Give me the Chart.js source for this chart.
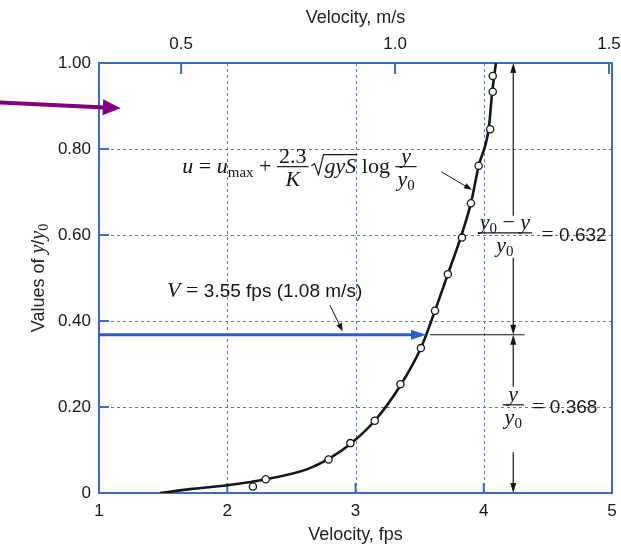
<!DOCTYPE html>
<html>
<head>
<meta charset="utf-8">
<script src="https://cdn.jsdelivr.net/npm/chart.js@4.4.1/dist/chart.umd.min.js"></script>
<style>
  html, body { margin: 0; padding: 0; background: #fff; }
  #wrap { width: 621px; height: 547px; }
</style>
</head>
<body>
<div id="wrap"><canvas id="velChart" width="621" height="547"></canvas></div>
<script>
// measured points: velocity (fps) and y/y0
var measuredFps   = [2.20, 2.30, 2.79, 2.96, 3.15, 3.35, 3.51, 3.62, 3.72, 3.83, 3.90, 3.96, 4.05, 4.07, 4.07];
var measuredRatio = [0.015, 0.032, 0.078, 0.116, 0.168, 0.253, 0.337, 0.424, 0.509, 0.594, 0.674, 0.761, 0.846, 0.933, 0.970];

// log-law curve
var curveFps   = [1.475, 1.71, 2.0, 2.3, 2.62, 2.8, 2.96, 3.15, 3.35, 3.51, 3.62, 3.72, 3.82, 3.90, 3.96, 4.04, 4.065, 4.095];
var curveRatio = [0.0, 0.009, 0.018, 0.032, 0.055, 0.081, 0.114, 0.168, 0.25, 0.337, 0.424, 0.509, 0.594, 0.674, 0.76, 0.85, 0.93, 1.0];

var fpsTicks   = [1, 2, 3, 4, 5];
var msTicks    = [0.5, 1.0, 1.5];
var ratioTicks = [0, 0.2, 0.4, 0.6, 0.8, 1.0];
var msMin = 0.308, msMax = 1.507;   // top axis range as drawn

var meanVelFps = 3.55;   // V = 3.55 fps
var meanRatio  = 0.368;  // y/y0 at mean velocity
var dimLineFps = 4.23;

var BLUE = 'rgb(58,108,196)';
var GRID = 'rgb(80,115,225)';
var INK = '#161616';
var SERIF_I = 'italic 22px "Liberation Serif"';
var SERIF = '22px "Liberation Serif"';
var SUB = '15px "Liberation Serif"';
var SANS = '19px "Liberation Sans"';

function pt(chart, xv, yv) {
    return [chart.scales.x.getPixelForValue(xv), chart.scales.y.getPixelForValue(yv)];
}

function arrowHead(c, x1, y1, x2, y2, len, w, color) {
    var a = Math.atan2(y2 - y1, x2 - x1);
    c.save();
    c.fillStyle = color;
    c.beginPath();
    c.moveTo(x2, y2);
    c.lineTo(x2 - len * Math.cos(a) + w * Math.sin(a), y2 - len * Math.sin(a) - w * Math.cos(a));
    c.lineTo(x2 - len * Math.cos(a) - w * Math.sin(a), y2 - len * Math.sin(a) + w * Math.cos(a));
    c.closePath();
    c.fill();
    c.restore();
}

function arrow(c, x1, y1, x2, y2, lw, color, len, w) {
    var a = Math.atan2(y2 - y1, x2 - x1);
    c.save();
    c.strokeStyle = color;
    c.lineWidth = lw;
    c.beginPath();
    c.moveTo(x1, y1);
    c.lineTo(x2 - len * 0.6 * Math.cos(a), y2 - len * 0.6 * Math.sin(a));
    c.stroke();
    c.restore();
    arrowHead(c, x1, y1, x2, y2, len, w, color);
}

function line(c, x1, y1, x2, y2, lw, color) {
    c.save();
    c.strokeStyle = color;
    c.lineWidth = lw;
    c.beginPath();
    c.moveTo(x1, y1);
    c.lineTo(x2, y2);
    c.stroke();
    c.restore();
}

function runs(c, x, y, list) {
    list.forEach(function (r) {
        c.font = r.f;
        c.fillText(r.t, x, y + (r.dy || 0));
        x += c.measureText(r.t).width;
    });
    return x;
}

function textWidth(c, list) {
    var w = 0;
    list.forEach(function (r) { c.font = r.f; w += c.measureText(r.t).width; });
    return w;
}

function fracWidth(c, num, den) {
    return Math.max(textWidth(c, num), textWidth(c, den)) + 4;
}

function frac(c, x, barY, num, den) {
    var wn = textWidth(c, num), wd = textWidth(c, den), w = Math.max(wn, wd) + 4;
    runs(c, x + (w - wn) / 2, barY - 4, num);
    runs(c, x + (w - wd) / 2, barY + 19, den);
    line(c, x, barY, x + w, barY, 1.2, INK);
    return x + w;
}

var y0Runs = [{t: 'y', f: SERIF_I}, {t: '0', f: SUB, dy: 4}];

var decorPlugin = {
    id: 'decor',
    beforeDatasetsDraw: function (chart) {
        var c = chart.ctx, a = chart.chartArea, sx = chart.scales.x, sy = chart.scales.y, s2 = chart.scales.x2;
        c.save();
        c.strokeStyle = GRID;
        c.lineWidth = 1;
        c.setLineDash([3, 3]);
        ratioTicks.forEach(function (v) {
            if (v === 0 || v === 1) return;
            var y = Math.round(sy.getPixelForValue(v)) + 0.5;
            c.beginPath(); c.moveTo(a.left, y); c.lineTo(a.right, y); c.stroke();
        });
        fpsTicks.forEach(function (v) {
            if (v === fpsTicks[0] || v === fpsTicks[fpsTicks.length - 1]) return;
            var x = Math.round(sx.getPixelForValue(v)) + 0.5;
            c.beginPath(); c.moveTo(x, a.top); c.lineTo(x, a.bottom); c.stroke();
        });
        c.setLineDash([]);
        // plot frame and inward ticks
        c.strokeStyle = BLUE;
        c.lineWidth = 2;
        c.strokeRect(a.left, a.top, a.right - a.left, a.bottom - a.top);
        ratioTicks.forEach(function (v) {
            var y = sy.getPixelForValue(v);
            c.beginPath(); c.moveTo(a.left, y); c.lineTo(a.left + 10, y); c.stroke();
        });
        fpsTicks.forEach(function (v) {
            var x = sx.getPixelForValue(v);
            c.beginPath(); c.moveTo(x, a.bottom); c.lineTo(x, a.bottom - 10); c.stroke();
        });
        msTicks.forEach(function (v) {
            var x = s2.getPixelForValue(v);
            c.beginPath(); c.moveTo(x, a.top); c.lineTo(x, a.top + 11); c.stroke();
        });
        c.restore();
    },
    afterDatasetsDraw: function (chart) {
        var c = chart.ctx, a = chart.chartArea;
        c.save();
        c.fillStyle = INK;
        c.textBaseline = 'alphabetic';
        c.textAlign = 'left';

        // blue arrow to the curve at y/y0 = 0.368
        var p1 = pt(chart, fpsTicks[0], meanRatio), p2 = pt(chart, meanVelFps, meanRatio);
        arrow(c, a.left, p1[1], p2[0], p2[1], 3, 'rgb(40,95,205)', 15, 5);

        // black line from curve across the dimension line
        var h1 = pt(chart, 3.58, meanRatio), h2 = pt(chart, 4.32, meanRatio);
        line(c, h1[0], h1[1], h2[0], h2[1], 1.2, INK);

        // dimension line
        var dx = pt(chart, dimLineFps, 0)[0];
        var yAt = function (v) { return chart.scales.y.getPixelForValue(v); };
        arrow(c, dx, yAt(0.645), dx, yAt(1.0), 1.2, INK, 10, 3);
        arrow(c, dx, yAt(0.547), dx, yAt(meanRatio), 1.2, INK, 10, 3);
        arrow(c, dx, yAt(0.247), dx, yAt(meanRatio), 1.2, INK, 10, 3);
        arrow(c, dx, yAt(0.095), dx, yAt(0), 1.2, INK, 10, 3);

        // (y0 - y)/y0 = 0.632
        var num1 = [{t: 'y', f: SERIF_I}, {t: '0', f: SUB, dy: 4}, {t: ' \u2212 ', f: SERIF}, {t: 'y', f: SERIF_I}];
        var w1 = fracWidth(c, num1, y0Runs);
        var cx1 = pt(chart, 4.165, 0)[0], bar1 = yAt(0.605);
        var e1 = frac(c, cx1 - w1 / 2, bar1, num1, y0Runs);
        runs(c, e1 + 9, bar1 + 8, [{t: '= ', f: SERIF}, {t: '0.632', f: SANS}]);

        // y/y0 = 0.368
        var num2 = [{t: 'y', f: SERIF_I}];
        var w2 = fracWidth(c, num2, y0Runs);
        var bar2 = yAt(0.205);
        var e2 = frac(c, dx - w2 / 2, bar2, num2, y0Runs);
        runs(c, e2 + 8, bar2 + 8, [{t: '= ', f: SERIF}, {t: '0.368', f: SANS}]);

        // log-law equation
        var q = pt(chart, 1.65, 0.745), base = q[1];
        var x = runs(c, q[0], base, [{t: 'u', f: SERIF_I}, {t: ' = ', f: SERIF}, {t: 'u', f: SERIF_I},
            {t: 'max', f: SUB, dy: 4}, {t: ' + ', f: SERIF}]);
        x = frac(c, x, base - 6, [{t: '2.3', f: SERIF}], [{t: 'K', f: SERIF_I}]) + 3;
        c.font = SERIF_I;
        var wg = c.measureText('gyS').width;
        c.save();
        c.strokeStyle = INK;
        c.lineWidth = 1.2;
        c.beginPath();
        c.moveTo(x, base - 7); c.lineTo(x + 3, base - 9); c.lineTo(x + 7, base + 2);
        c.lineTo(x + 12, base - 18); c.lineTo(x + 14 + wg, base - 18);
        c.stroke();
        c.restore();
        x = runs(c, x + 13, base, [{t: 'gyS', f: SERIF_I}, {t: ' log ', f: SERIF}]);
        frac(c, x, base - 6, [{t: 'y', f: SERIF_I}], y0Runs);
        var l1 = pt(chart, 3.67, 0.747), l2 = pt(chart, 3.908, 0.705);
        arrow(c, l1[0], l1[1], l2[0], l2[1], 1, INK, 8, 3);

        // V = 3.55 fps label
        var v = pt(chart, 1.53, 0.455);
        runs(c, v[0], v[1], [{t: 'V', f: SERIF_I}, {t: ' = ', f: SERIF}, {t: '3.55 fps (1.08 m/s)', f: SANS}]);
        var m1 = pt(chart, 2.80, 0.437), m2 = pt(chart, 2.90, meanRatio + 0.008);
        arrow(c, m1[0], m1[1], m2[0], m2[1], 1, INK, 8, 3);

        c.restore();
    },
    afterDraw: function (chart) {
        var c = chart.ctx, a = chart.chartArea;
        c.save();
        // y axis title: Values of y/y0
        c.translate(44, (a.top + a.bottom) / 2);
        c.rotate(-Math.PI / 2);
        c.fillStyle = '#222';
        var title = [{t: 'Values of ', f: '18px "Liberation Sans"'}, {t: 'y', f: 'italic 20px "Liberation Serif"'},
            {t: '/', f: '18px "Liberation Sans"'}, {t: 'y', f: 'italic 20px "Liberation Serif"'},
            {t: '0', f: '14px "Liberation Serif"', dy: 4}];
        runs(c, -textWidth(c, title) / 2, 0, title);
        c.restore();

        // purple pointer arrow at the upper left
        var tip = pt(chart, 1.17, 0.895), tail = pt(chart, 1.0, 0.908);
        arrow(c, 0, tail[1], tip[0], tip[1], 4, 'rgb(128,0,128)', 18, 8);
    }
};

var data = {
    datasets: [{
        label: 'measured',
        data: measuredFps.map(function (v, i) { return {x: v, y: measuredRatio[i]}; }),
        showLine: false,
        pointRadius: 3.6,
        pointBackgroundColor: '#fff',
        pointBorderColor: INK,
        pointBorderWidth: 1.3
    },
    {
        label: 'log law',
        data: curveFps.map(function (v, i) { return {x: v, y: curveRatio[i]}; }),
        showLine: true,
        pointRadius: 0,
        borderColor: INK,
        borderWidth: 2.6,
        cubicInterpolationMode: 'monotone'
    }]
};

var noGrid = {display: false, drawTicks: false};

var options = {
    responsive: false,
    animation: false,
    layout: {padding: {left: 0, right: 9, top: 0, bottom: 0}},
    plugins: {legend: {display: false}, tooltip: {enabled: false}},
    scales: {
        x: {
            type: 'linear', position: 'bottom', min: 1, max: 5,
            grid: noGrid, border: {display: false},
            afterBuildTicks: function (s) { s.ticks = fpsTicks.map(function (v) { return {value: v}; }); },
            ticks: {padding: 8, font: {size: 17}, color: INK, callback: function (v) { return String(v); }},
            title: {display: true, text: 'Velocity, fps', font: {size: 18}, color: '#222', padding: {top: 1, bottom: 1}},
            afterFit: function (s) { s.height = 54; s.paddingLeft = 0; s.paddingRight = 0; }
        },
        x2: {
            type: 'linear', position: 'top', min: msMin, max: msMax,
            grid: noGrid, border: {display: false},
            afterBuildTicks: function (s) { s.ticks = msTicks.map(function (v) { return {value: v}; }); },
            ticks: {padding: 8, font: {size: 17}, color: INK, callback: function (v) { return v.toFixed(1); }},
            title: {display: true, text: 'Velocity, m/s', font: {size: 18}, color: '#222', padding: {top: 7, bottom: 7}},
            afterFit: function (s) { s.height = 63; s.paddingLeft = 0; s.paddingRight = 0; }
        },
        y: {
            type: 'linear', position: 'left', min: 0, max: 1,
            grid: noGrid, border: {display: false},
            afterBuildTicks: function (s) { s.ticks = ratioTicks.map(function (v) { return {value: v}; }); },
            ticks: {padding: 8, font: {size: 17}, color: INK, callback: function (v) { return v === 0 ? '0' : v.toFixed(2); }},
            afterFit: function (s) { s.width = 99; }
        }
    }
};

var config = {
    type: 'scatter',
    data: data,
    options: options,
    plugins: [decorPlugin]
};

var graph = new Chart(document.getElementById('velChart').getContext('2d'), config);
</script>
</body>
</html>
